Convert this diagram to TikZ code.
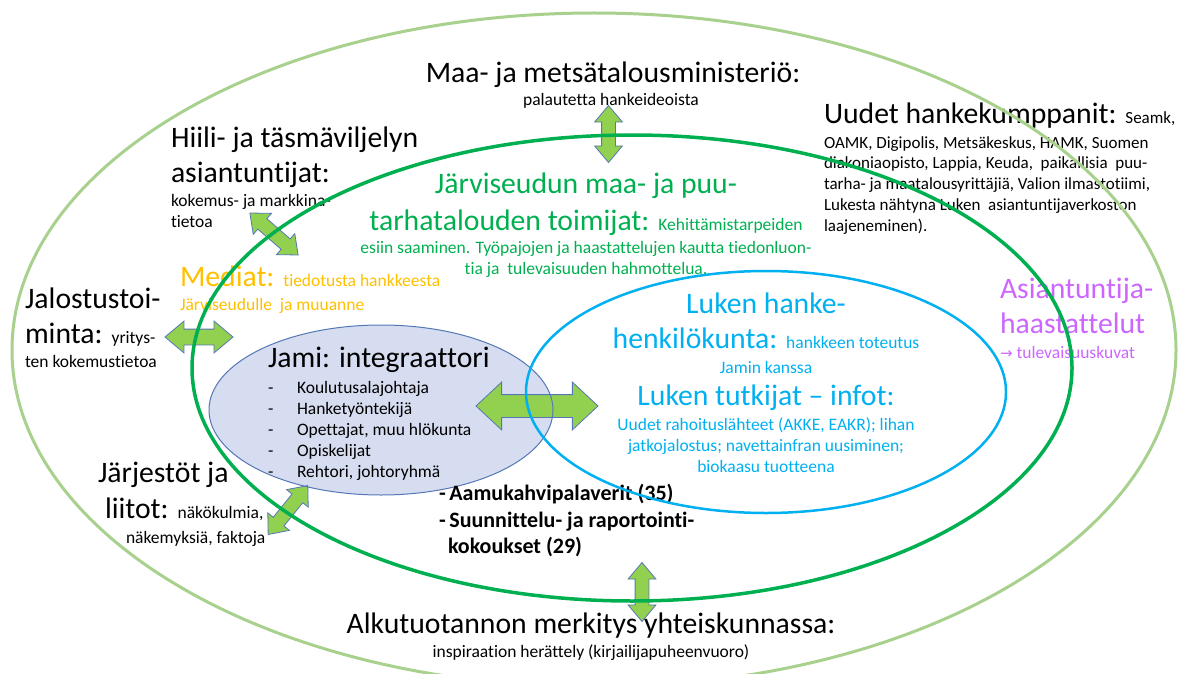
\documentclass[tikz,border=0pt]{standalone}
\usepackage{fontspec}
\setmainfont{Carlito}[Ligatures={TeX,NoCommon}]
\newfontfamily\dejavu{DejaVu Sans}
\usetikzlibrary{shapes.arrows}
\definecolor{outerG}{HTML}{A9D18E}
\definecolor{ringG}{HTML}{00B050}
\definecolor{ringB}{HTML}{00B0F0}
\definecolor{jamiF}{HTML}{D6DDF0}
\definecolor{jamiD}{HTML}{5677B5}
\definecolor{arrG}{HTML}{92D050}
\definecolor{arrD}{HTML}{5677B5}
\definecolor{medO}{HTML}{FFC000}
\definecolor{violT}{HTML}{CC66FF}
\newcommand\BT{\fontsize{29.7}{34}\selectfont}
\newcommand\ST{\fontsize{17.5}{21}\selectfont}
\newcommand\UT{\fontsize{17}{21}\selectfont}
\newcommand\BoT{\fontsize{22}{26}\selectfont\bfseries}
\tikzset{
  txt/.style={inner sep=0pt, outer sep=0pt, anchor=base west},
  ctxt/.style={inner sep=0pt, outer sep=0pt, anchor=base},
  barrow/.style={double arrow, draw=arrD, fill=arrG, line width=0.8pt,
     inner sep=0pt, double arrow head extend=7pt, inner ysep=6.5pt,
     double arrow tip angle=80},
}
\begin{document}
\begin{tikzpicture}[x=1pt,y=-1pt]
\useasboundingbox (0,0) rectangle (1180,674);
\fill[white] (0,0) rectangle (1180,674);
% Jami ellipse fill
\fill[jamiF] (381,410) ellipse [x radius=172, y radius=85];
% arrows
\node[barrow, minimum height=57pt, rotate=90] (a1) at (608.5,134) {};
\node[barrow, minimum height=64pt, rotate=-41] (a2) at (274,234) {};
\node[barrow, minimum height=68pt, inner ysep=7.5pt, double arrow head extend=8pt] (a3) at (199,337) {};
\node[barrow, minimum height=122pt, inner ysep=11pt, double arrow head extend=12.5pt, double arrow tip angle=86] (a4) at (537,406) {};
\node[barrow, minimum height=63pt, rotate=51] (a5) at (288,510) {};
\node[barrow, minimum height=59pt, rotate=90] (a6) at (642,592) {};
% Jami ellipse border
\draw[jamiD, line width=1pt] (381,410) ellipse [x radius=172, y radius=85];
% Maa- ja metsätalousministeriö
\node[ctxt] (m1) at (613,83) {\BT Maa- ja metsätalousministeriö:};
\node[ctxt] (m2) at (611,106) {\ST palautetta hankeideoista};
% Uudet hankekumppanit
\node[txt] (u0) at (824,124) {\BT Uudet hankekumppanit: \UT Seamk,};
\node[txt] (u1) at (824,148) {\UT OAMK, Digipolis, Metsäkeskus, HAMK, Suomen};
\node[txt] (u2) at (824,168) {\UT diakoniaopisto, Lappia, Keuda,\ \ paikallisia\ \ puu-};
\node[txt] (u3) at (824,189) {\UT tarha- ja maatalousyrittäjiä, Valion ilmastotiimi,};
\node[txt] (u4) at (824,210) {\UT Lukesta nähtyna Luken\ \ asiantuntijaverkoston};
\node[txt] (u5) at (824,231) {\UT laajeneminen).};
% Hiili
\node[txt] (h1) at (171,147) {\BT Hiili- ja täsmäviljelyn};
\node[txt] (h2) at (171,182) {\BT asiantuntijat:};
\node[txt] (h3) at (171,206) {\ST kokemus- ja markkina-};
\node[txt] (h4) at (171,227) {\ST tietoa};
% Järviseudun
\node[ctxt, text=ringG] (j1) at (586,193) {\BT Järviseudun maa- ja puu-};
\node[ctxt, text=ringG] (j2) at (586,230) {\BT tarhatalouden toimijat: \ST Kehittämistarpeiden};
\node[ctxt, text=ringG] (j3) at (586,253) {\ST esiin saaminen. Työpajojen ja haastattelujen kautta tiedonluon-};
\node[ctxt, text=ringG] (j4) at (586,274) {\ST tia ja\ \ tulevaisuuden hahmottelua.};
% Mediat
\node[txt, text=medO] (me1) at (180,286) {\BT Mediat: \ST tiedotusta hankkeesta};
\node[txt, text=medO] (me2) at (180,310) {\ST Järviseudulle\ \ ja muuanne};
% Jalostustoiminta
\node[txt] (js1) at (25,308) {\BT Jalostustoi-};
\node[txt] (js2) at (25,343) {\BT minta: \ST yritys-};
\node[txt] (js3) at (25,367) {\ST ten kokemustietoa};
% Jami
\node[txt] (ja0) at (268,367) {\BT Jami: integraattori};
\node[txt] (jd1) at (268,393) {\ST -};
\node[txt] (jl1) at (297,393) {\ST Koulutusalajohtaja};
\node[txt] (jd2) at (268,414) {\ST -};
\node[txt] (jl2) at (297,414) {\ST Hanketyöntekijä};
\node[txt] (jd3) at (268,435) {\ST -};
\node[txt] (jl3) at (297,435) {\ST Opettajat, muu hlökunta};
\node[txt] (jd4) at (268,456) {\ST -};
\node[txt] (jl4) at (297,456) {\ST Opiskelijat};
\node[txt] (jd5) at (268,477) {\ST -};
\node[txt] (jl5) at (297,477) {\ST Rehtori, johtoryhmä};
% Järjestöt
\node[txt] (jj1) at (98,482) {\BT Järjestöt ja};
\node[txt] (jj2) at (105,518) {\BT liitot: \ST näkökulmia,};
\node[txt] (jj3) at (126,543) {\ST näkemyksiä, faktoja};
% bold list
\node[txt] (b1) at (439,500) {\BoT -\,Aamukahvipalaverit (35)};
\node[txt] (b2) at (439,527) {\BoT -\,Suunnittelu- ja raportointi-};
\node[txt] (b3) at (448,553) {\BoT kokoukset (29)};
% Luken
\node[ctxt, text=ringB] (l1) at (766,313) {\BT Luken hanke-};
\node[ctxt, text=ringB] (l2) at (766,348) {\BT henkilökunta: \ST hankkeen toteutus};
\node[ctxt, text=ringB] (l3) at (766,373) {\ST Jamin kanssa};
\node[ctxt, text=ringB] (l4) at (766,405) {\BT Luken tutkijat – infot:};
\node[ctxt, text=ringB] (l5) at (766,430) {\ST Uudet rahoituslähteet (AKKE, EAKR); lihan};
\node[ctxt, text=ringB] (l6) at (766,451) {\ST jatkojalostus; navettainfran uusiminen;};
\node[ctxt, text=ringB] (l7) at (766,472) {\ST biokaasu tuotteena};
% Asiantuntijahaastattelut
\node[txt, text=violT] (v1) at (1000,298) {\BT Asiantuntija-};
\node[txt, text=violT] (v2) at (1000,333) {\BT haastattelut};
\node[txt, text=violT] (v3) at (1000,358) {\ST {\dejavu\fontsize{15}{18}\selectfont →} tulevaisuuskuvat};
% Alkutuotannon
\node[ctxt] (k1) at (591,633) {\BT Alkutuotannon merkitys yhteiskunnassa:};
\node[ctxt] (k2) at (591,657) {\ST inspiraation herättely (kirjailijapuheenvuoro)};
% rings
\draw[outerG, line width=3pt] (594,350) ellipse [x radius=582, y radius=337];
\draw[ringG, line width=3.5pt] (632,368) ellipse [x radius=440, y radius=233];
\draw[ringB, line width=2.5pt] (766,392) ellipse [x radius=240, y radius=121];
\end{tikzpicture}
\end{document}
